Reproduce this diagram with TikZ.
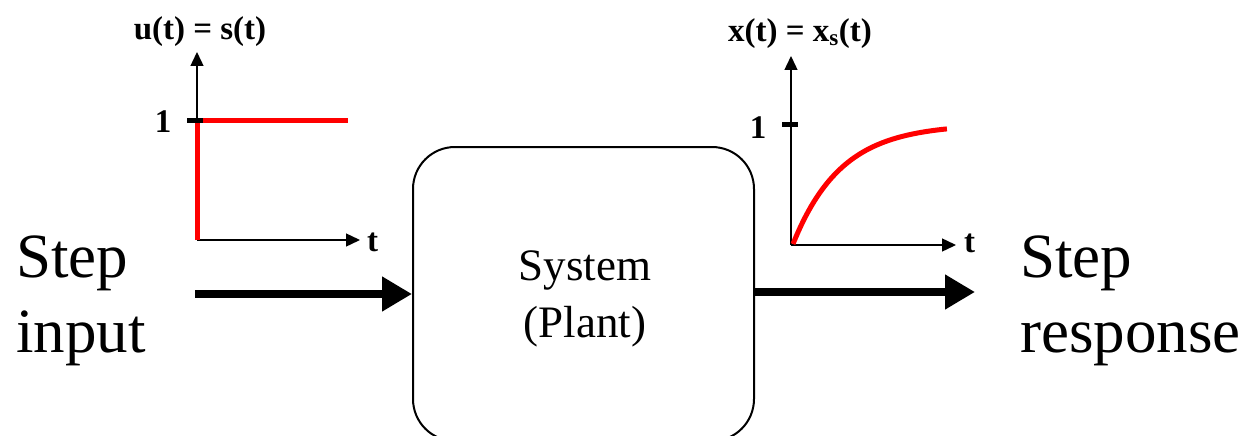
\documentclass[tikz,border=0pt]{standalone}
\usepackage{fontspec}
\setmainfont{Liberation Serif}
\usetikzlibrary{arrows.meta}
\begin{document}
\begin{tikzpicture}[x=1pt,y=-1pt,
  axis/.style={line width=1.4pt,-{Triangle[length=14pt,width=13pt]}},
  sig/.style={red,line width=5pt},
  tickmark/.style={line width=5pt},
  bigarrow/.style={line width=8pt,-{Triangle[length=30pt,width=33pt]}},
  title/.style={font=\fontsize{33}{33}\selectfont\bfseries,inner sep=0pt},
  lbl/.style={font=\fontsize{33}{33}\selectfont\bfseries,inner sep=0pt},
  big/.style={font=\fontsize{63}{75}\selectfont,align=left,inner sep=0pt,anchor=base west},
  plant/.style={draw,line width=2pt,rounded corners=42pt,minimum width=341pt,minimum height=294pt,
    inner sep=0pt},
  plabel/.style={font=\fontsize{45}{57}\selectfont,align=center,inner sep=0pt}
]
\useasboundingbox (0,0) rectangle (1248,436);
\clip (0,0) rectangle (1248,436);
% left graph
\coordinate (lo) at (197,240);
\coordinate (ly) at (197,52);
\coordinate (lx) at (360,240);
\coordinate (l1) at (197,120.5);
\coordinate (le) at (348,120.5);
\draw[axis] (lo) -- (ly);
\draw[axis] (lo) -- (lx);
\draw[sig] (lo) -- (l1) -- (le);
\draw[tickmark] ([xshift=-10pt]l1) -- ([xshift=6pt]l1);
\node[lbl] (l1lab) at (163,122) {1};
\node[lbl,anchor=west] (ltl) at (367,242) {t};
\node[title] (ltitle) at (200,32) {u(t) = s(t)};
% right graph
\coordinate (ro) at (791,245);
\coordinate (ry) at (791,56);
\coordinate (rx) at (956,245);
\coordinate (r1) at (791,124);
\draw[axis] (ro) -- (ry);
\draw[axis] (ro) -- (rx);
\draw[sig] plot[domain=0:1,samples=60] ({793+154*\x},{244-120*(1-exp(-3.2*\x))});
\draw[tickmark] ([xshift=-9pt]r1) -- ([xshift=7pt]r1);
\node[lbl] (r1lab) at (758,128) {1};
\node[lbl,anchor=west] (rtl) at (964,243) {t};
\node[title] (rtitle) at (800,34) {x(t) = x\textsubscript{s}(t)};
% system
\node[plant] (sys) at (583.5,294) {};
\node[plabel] (sysl) at (585,299) {System\\(Plant)};
% big labels
\node[big] (inlab) at (16,352) {Step\\input};
\node[big] (outlab) at (1020,352) {Step\\response};
% arrows
\coordinate (ain) at (195,294);
\coordinate (aout) at (975,292);
\draw[bigarrow] (ain) -- (sys.west |- ain);
\draw[bigarrow] (sys.east |- aout) -- (aout);
\end{tikzpicture}
\end{document}
